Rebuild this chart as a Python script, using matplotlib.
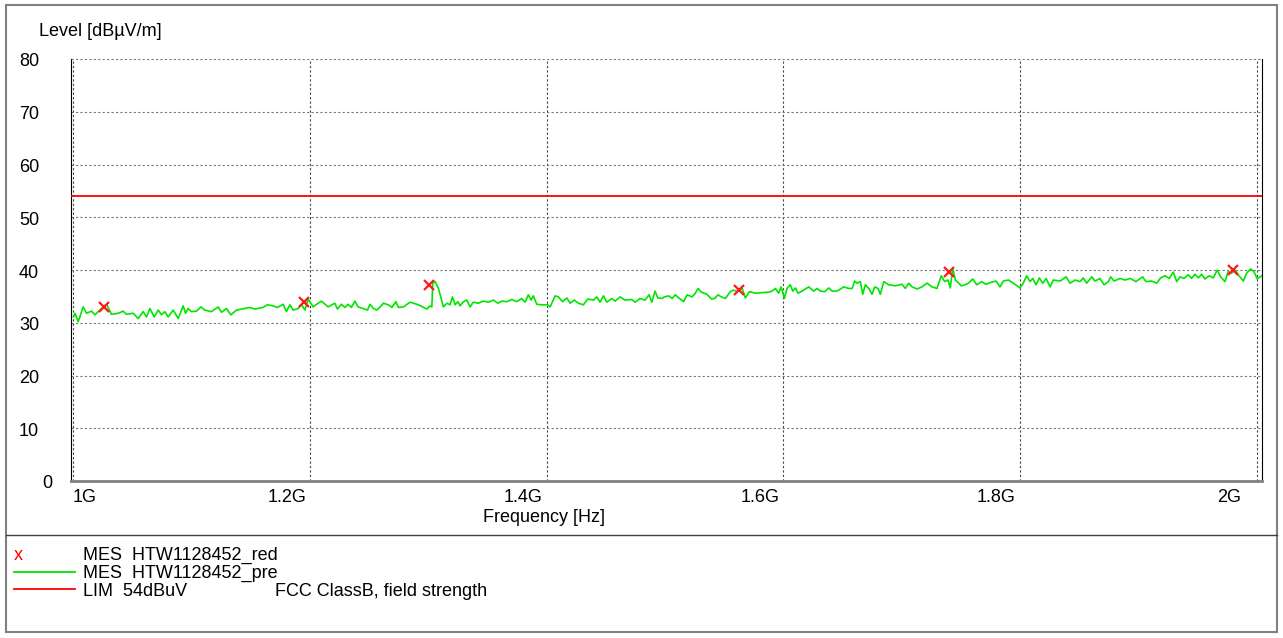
import matplotlib
matplotlib.use("Agg")
import matplotlib.pyplot as plt
from matplotlib.lines import Line2D
from matplotlib.patches import Rectangle

plt.rcParams['font.family'] = ['Liberation Sans', 'DejaVu Sans']

# preview scan (MHz, dBuV/m)
pre_freq = [
    1000.0, 1001.2, 1004.0, 1008.2, 1011.0, 1015.2, 1018.1, 1023.7, 1027.9, 1032.1,
    1037.8, 1042.0, 1044.8, 1050.5, 1054.7, 1058.9, 1061.7, 1064.6, 1068.2, 1071.6,
    1074.4, 1077.2, 1080.0, 1084.3, 1088.5, 1092.7, 1094.7, 1096.9, 1099.7, 1103.9,
    1107.7, 1111.0, 1116.6, 1122.3, 1125.1, 1129.3, 1133.0, 1137.8, 1144.8, 1149.1,
    1153.3, 1160.3, 1163.9, 1168.8, 1172.4, 1177.2, 1180.0, 1182.9, 1185.7, 1189.9,
    1192.7, 1195.6, 1198.3, 1202.6, 1205.4, 1209.6, 1215.2, 1220.9, 1223.1, 1226.5,
    1229.4, 1232.1, 1234.9, 1237.8, 1240.6, 1244.8, 1248.5,
    1250.7, 1253.5, 1256.4, 1259.2, 1262.0, 1266.2, 1269.1, 1272.5, 1274.7, 1278.9,
    1284.5, 1291.6, 1298.7, 1301.4, 1302.9, 1303.7, 1305.7, 1308.5, 1312.7, 1315.6,
    1318.3, 1320.3, 1322.6, 1324.9, 1326.8, 1329.6, 1332.5, 1335.2, 1338.0, 1342.3,
    1346.5, 1350.7, 1354.9, 1358.7, 1362.0, 1366.3, 1370.5, 1374.7, 1378.9, 1381.7,
    1384.5, 1386.8, 1388.7, 1391.6, 1395.8, 1400.9, 1402.9, 1407.1, 1409.9, 1413.3,
    1417.0, 1419.8, 1423.4, 1426.8, 1431.0, 1434.7, 1439.5, 1442.3, 1445.1, 1447.9,
    1450.8, 1455.0, 1457.8, 1462.0, 1466.2, 1471.9, 1474.7, 1478.9, 1483.1, 1486.5,
    1488.8, 1491.6, 1493.9, 1497.3, 1499.4,
    1503.2, 1506.0, 1508.7, 1511.6, 1515.8, 1518.6, 1522.9, 1525.6, 1527.9, 1530.7,
    1535.5, 1539.2, 1542.0, 1544.8, 1547.6, 1551.0, 1555.2, 1558.1, 1560.9, 1565.1,
    1567.9, 1571.3, 1576.4, 1582.0, 1587.7, 1590.5, 1593.3, 1596.1, 1598.1, 1600.9,
    1603.1, 1605.9, 1608.0, 1610.2, 1612.4, 1615.8, 1621.5, 1625.7, 1628.5, 1631.3,
    1635.0, 1638.4, 1641.2, 1645.4, 1651.1, 1655.3, 1658.1, 1660.4, 1662.3, 1665.1,
    1667.1, 1669.3, 1672.2, 1675.0, 1677.3, 1680.1, 1682.0, 1684.9, 1689.1, 1694.7,
    1700.3, 1703.1, 1706.0, 1708.8, 1713.0, 1717.2, 1721.5, 1725.7, 1729.9, 1733.5,
    1736.4, 1739.2, 1741.1, 1743.2, 1745.4, 1748.3, 1750.4,
    1753.6, 1756.4, 1760.1, 1763.5, 1767.7, 1771.3, 1776.1, 1779.8, 1783.2, 1785.9,
    1790.2, 1794.4, 1800.1, 1802.8, 1805.7, 1808.5, 1810.8, 1813.6, 1816.4, 1819.3,
    1822.1, 1825.5, 1828.2, 1833.9, 1839.0, 1842.4, 1846.6, 1850.8, 1853.6, 1856.4,
    1860.7, 1863.4, 1867.7, 1871.1, 1874.7, 1876.7, 1879.5, 1884.6, 1888.8, 1893.1,
    1898.1, 1903.7, 1906.5, 1911.3, 1915.6, 1918.9, 1922.6, 1926.2, 1929.6, 1932.5,
    1935.3, 1938.6, 1942.3, 1945.1, 1947.9, 1950.7, 1953.6, 1956.4, 1960.0, 1963.4,
    1966.8, 1969.6, 1973.3, 1976.0, 1978.9, 1981.7, 1984.5, 1988.8, 1991.6, 1995.0,
    1997.8, 2000.6, 2004.3,
]
pre_level = [
    31.1, 31.8, 30.2, 33.0, 31.8, 32.2, 31.5, 32.7, 33.5, 31.6,
    31.8, 32.2, 31.6, 31.8, 30.8, 32.1, 31.1, 32.7, 31.1, 32.4,
    31.5, 32.1, 31.1, 32.4, 30.8, 33.2, 31.8, 32.7, 32.1, 32.2,
    33.0, 32.4, 32.1, 33.0, 32.0, 32.7, 31.5, 32.4, 32.7, 32.9,
    32.6, 32.9, 33.4, 33.2, 32.9, 33.5, 32.1, 33.4, 32.4, 32.7,
    33.5, 32.4, 34.5, 33.0, 33.5, 34.1, 33.0, 33.7, 32.6, 33.5,
    32.9, 33.5, 32.9, 34.1, 33.0, 32.7, 32.4,
    33.5, 32.7, 32.4, 33.0, 33.7, 33.4, 32.9, 34.0, 32.9, 33.0,
    33.9, 33.4, 32.6, 33.2, 33.0, 37.5, 37.8, 36.5, 33.0, 33.7,
    33.4, 34.9, 33.4, 34.0, 33.2, 34.0, 34.3, 33.0, 33.9, 33.7,
    34.1, 33.9, 34.3, 33.7, 34.1, 34.0, 34.4, 34.0, 34.6, 33.9,
    35.3, 34.3, 35.1, 33.5, 33.4, 33.4, 33.0, 35.1, 34.9, 34.0,
    34.7, 33.7, 34.3, 33.7, 33.4, 34.5, 34.3, 34.9, 33.9, 35.1,
    33.9, 34.6, 34.1, 34.9, 34.3, 34.4, 33.9, 34.6, 34.3, 35.3,
    33.9, 36.0, 34.7, 34.6, 34.9,
    35.1, 34.6, 35.3, 34.7, 34.0, 35.3, 34.9, 35.6, 36.5, 35.8,
    35.4, 34.5, 34.6, 35.3, 34.9, 34.6, 35.9, 36.2, 35.9, 36.6,
    34.7, 35.9, 35.6, 35.7, 35.8, 36.0, 36.5, 35.6, 36.8, 34.6,
    36.5, 37.2, 36.0, 36.6, 35.6, 36.0, 36.8, 36.0, 36.5, 36.0,
    35.9, 36.6, 36.0, 36.0, 36.8, 36.5, 36.5, 37.9, 37.5, 37.8,
    35.4, 37.2, 36.5, 35.4, 36.8, 36.5, 35.4, 37.8, 37.2, 37.0,
    37.3, 36.5, 37.5, 36.8, 36.4, 36.8, 37.5, 36.8, 36.5, 38.9,
    37.8, 38.1, 36.6, 40.3, 38.1, 37.5, 37.0,
    37.2, 37.5, 38.3, 37.2, 37.8, 37.3, 37.7, 37.9, 36.8, 37.9,
    38.1, 37.5, 36.6, 37.5, 38.9, 37.8, 38.4, 37.2, 38.5, 37.5,
    38.4, 36.8, 38.1, 37.9, 38.7, 37.5, 38.1, 37.8, 38.5, 37.5,
    38.7, 37.9, 38.4, 37.2, 37.8, 38.7, 37.9, 38.4, 38.1, 38.4,
    37.8, 38.7, 37.8, 37.9, 37.5, 38.5, 38.9, 38.4, 39.6, 37.8,
    38.7, 38.4, 39.1, 38.4, 39.2, 38.5, 39.2, 38.3, 38.9, 38.5,
    40.0, 38.7, 37.8, 39.7, 39.4, 40.0, 39.1, 37.9, 39.4, 40.2,
    39.7, 38.3, 38.9,
]

# final measurements
red_freq = [1025.9, 1194.7, 1300.6, 1562.8, 1739.8, 1979.8]
red_level = [32.9, 33.9, 37.2, 36.2, 39.6, 40.0]

limit_level = 54

x_ticks = [1000, 1200, 1400, 1600, 1800, 2000]
x_labels = ['1G', '1.2G', '1.4G', '1.6G', '1.8G', '2G']
y_ticks = [0, 10, 20, 30, 40, 50, 60, 70, 80]

W, H = 1283, 638
fig = plt.figure(figsize=(W / 100, H / 100), dpi=100)

def fx(px):
    return px / W

def fy(py):
    return 1 - py / H

ax = fig.add_axes([fx(71), fy(481), fx(1262) - fx(71), fy(59) - fy(481)])
ax.set_xlim(997.9, 2004.6)
ax.set_ylim(0, 80)

ax.axhline(limit_level, color='#ff0000', lw=1.3, zorder=3)
ax.plot(pre_freq, pre_level, color='#00e600', lw=1.2, zorder=4)
ax.plot(red_freq, red_level, 'x', color='#ff1a1a', ms=7, mew=1.6, zorder=5)

ax.set_xticks(x_ticks)
ax.set_yticks(y_ticks)
ax.tick_params(length=0, labelbottom=False, labelleft=False)
ax.yaxis.grid(True, color='#777777', linestyle=(0, (2, 2)), lw=0.8)
ax.xaxis.grid(True, color='#444444', linestyle=(0, (2, 2)), lw=0.8)

ax.spines['top'].set_visible(False)
ax.spines['left'].set_color('black')
ax.spines['right'].set_color('black')
ax.spines['bottom'].set_color('#808080')
ax.spines['bottom'].set_linewidth(2)

fs = 13
for f, lab in zip(x_ticks, x_labels):
    if lab == '1G':
        ha, dx = 'left', -1
    elif lab == '2G':
        ha, dx = 'right', -15
    else:
        ha, dx = 'right', -4
    ax.annotate(lab, (f, 0), xycoords=('data', 'axes fraction'),
                xytext=(dx, -16), textcoords='offset pixels',
                ha=ha, va='center', fontsize=fs)

for v in y_ticks:
    dx = -19 if v == 0 else -32
    ax.annotate(str(v), (0, v), xycoords=('axes fraction', 'data'),
                xytext=(dx, -3), textcoords='offset pixels',
                ha='right', va='center', fontsize=fs)

fig.text(fx(39), fy(31), 'Level [dBµV/m]', ha='left', va='center', fontsize=fs)
fig.text(fx(544), fy(518), 'Frequency [Hz]', ha='center', va='center', fontsize=fs)

# frame and legend block
fig.add_artist(Rectangle((fx(6), fy(632)), fx(1277) - fx(6), fy(5) - fy(632),
                         transform=fig.transFigure, fill=False,
                         edgecolor='#808080', lw=1.5))
fig.add_artist(Line2D([fx(6), fx(1277)], [fy(535), fy(535)],
                      transform=fig.transFigure, color='#404040', lw=1))

fig.text(fx(14), fy(556), 'x', color='#ff0000', ha='left', va='center', fontsize=fs)
fig.add_artist(Line2D([fx(14), fx(75)], [fy(572), fy(572)],
                      transform=fig.transFigure, color='#00e600', lw=1.3))
fig.add_artist(Line2D([fx(14), fx(75)], [fy(589), fy(589)],
                      transform=fig.transFigure, color='#ff0000', lw=1.3))
fig.text(fx(83), fy(555), 'MES  HTW1128452_red', ha='left', va='center', fontsize=fs)
fig.text(fx(83), fy(573), 'MES  HTW1128452_pre', ha='left', va='center', fontsize=fs)
fig.text(fx(83), fy(591), 'LIM  54dBuV', ha='left', va='center', fontsize=fs)
fig.text(fx(275), fy(591), 'FCC ClassB, field strength', ha='left', va='center', fontsize=fs)

fig.savefig('out.png', dpi=100)
